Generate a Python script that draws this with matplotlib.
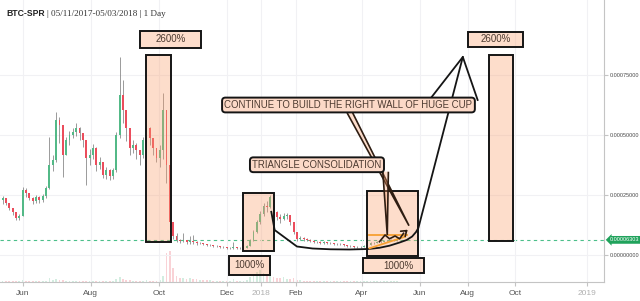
import numpy as np
import matplotlib
matplotlib.use("Agg")
import matplotlib.pyplot as plt
import matplotlib.dates as mdates
from matplotlib.colors import to_rgba
from matplotlib.patches import Rectangle, Polygon
from matplotlib.transforms import blended_transform_factory

# 3-day candles of BTC-SPR, prices in satoshi
first_day = "2017-05-11"
step_days = 3
closes = [
    22900, 23700, 21700, 19600, 17900, 15400, 16200, 27100, 25800, 23700,
    22500, 24200, 22900, 24600, 27900, 37500, 39600, 56200, 54200, 41700,
    47900, 50000, 51250, 52900, 50800, 47900, 40400, 41700, 44600, 37500,
    38750, 33300, 35400, 32900, 35400, 50000, 66700, 60400, 52900, 44600,
    45800, 43750, 41700, 47900, 52900, 48750, 44600, 40400, 43750, 60400,
    37500, 13750, 7900, 6250, 5800, 6250, 5400, 5800, 5400, 5000,
    5000, 4600, 4200, 4200, 3750, 3750, 3300, 3300, 2900, 2900,
    3300, 2900, 2900, 2900, 3750, 6250, 9600, 13750, 17100, 20400,
    20000, 24200, 17900, 15800, 15000, 16200, 16700, 13750, 9600, 6700,
    7100, 6700, 6250, 5800, 5400, 5400, 5000, 5400, 5000, 5000,
    4600, 4600, 4600, 4200, 3750, 3750, 3300, 3300, 3300, 3750,
    4200, 5000, 5000, 5400, 5400, 5800, 5800, 6250, 6250, 6303,
]
highs = [
    25000, 24600, 23700, 21700, 19600, 17900, 17100, 28300, 27900, 25800,
    24200, 25000, 24600, 25400, 28700, 49200, 41700, 59600, 57500, 54200,
    49200, 51700, 52900, 55000, 53300, 50800, 47900, 44200, 46200, 45000,
    40800, 38750, 36700, 35800, 36300, 51250, 82500, 72900, 60400, 52900,
    47900, 46700, 43750, 49200, 57500, 53300, 48750, 44600, 45800, 67500,
    60400, 37500, 13750, 9200, 6700, 9200, 6250, 7900, 8300, 5800,
    5400, 5000, 4600, 4600, 4200, 4200, 3750, 3750, 3300, 3300,
    5400, 3300, 3300, 3300, 4200, 6700, 10400, 14600, 18300, 21700,
    22500, 25000, 24200, 18300, 17100, 17500, 17500, 16700, 13750, 9600,
    7900, 7500, 7100, 6700, 6250, 5800, 5800, 5800, 5400, 5400,
    5000, 5000, 5000, 4600, 4200, 4200, 3750, 3750, 3750, 4200,
    4600, 5400, 5400, 5800, 6250, 6250, 6250, 6700, 6700, 6700,
]
lows = [
    21700, 21300, 20800, 18750, 16700, 14600, 14600, 16200, 24200, 22900,
    21300, 21700, 21700, 22100, 23700, 27500, 35000, 38750, 46700, 32500,
    41700, 45800, 48750, 49600, 47900, 45000, 29200, 37500, 40000, 35000,
    35800, 32100, 31700, 31200, 31700, 34600, 48750, 55000, 47500, 41700,
    42500, 40000, 37500, 40400, 46700, 45800, 41700, 38750, 36700, 40000,
    30000, 9600, 6700, 5400, 5000, 5400, 4600, 4600, 4600, 4200,
    4600, 4200, 3750, 3750, 3300, 3300, 2900, 2900, 2500, 2500,
    2500, 2500, 2500, 2500, 2900, 3750, 5800, 9200, 12900, 16200,
    17900, 19600, 16700, 14600, 13300, 14600, 15000, 12500, 8800, 5800,
    6250, 5800, 5800, 5400, 5000, 5000, 4600, 4600, 4600, 4600,
    4200, 4200, 4200, 3750, 3300, 3300, 2900, 2900, 2900, 3300,
    3750, 4200, 4600, 5000, 5000, 5400, 5400, 5800, 5800, 5800,
]
first_open = 23500
volumes = [
    1.2, 0.8, 0.6, 0.5, 0.7, 0.6, 0.5, 1.5, 1.0, 0.8,
    0.6, 0.7, 0.6, 0.8, 1.2, 3.5, 2.0, 2.8, 1.8, 1.5,
    1.2, 1.0, 0.9, 1.1, 0.8, 0.9, 1.4, 1.0, 0.9, 1.2,
    0.8, 1.0, 0.8, 0.9, 1.0, 3.0, 4.5, 2.5, 1.8, 1.5,
    1.2, 1.0, 1.1, 1.4, 1.6, 1.2, 1.0, 1.3, 2.0, 6.0,
    28.0, 30.0, 14.0, 6.0, 3.5, 4.0, 3.0, 3.5, 3.0, 2.5,
    2.0, 1.8, 1.5, 1.5, 1.4, 1.2, 1.2, 1.0, 1.0, 1.2,
    2.5, 1.0, 1.0, 1.2, 2.0, 5.0, 8.0, 10.0, 12.0, 9.0,
    7.0, 9.5, 5.0, 4.0, 3.5, 4.5, 3.0, 2.5, 3.5, 2.0,
    1.5, 1.2, 1.0, 1.0, 0.8, 0.9, 0.8, 0.8, 0.7, 0.8,
    0.6, 0.7, 0.6, 0.6, 0.5, 0.6, 0.5, 0.5, 0.6, 0.7,
    0.8, 1.0, 0.9, 1.0, 0.8, 0.9, 1.0, 1.1, 0.9, 0.8,
]
last_price = 0.00006303

price_ticks = [0.0, 0.00025, 0.0005, 0.00075]
tick_dates = ["2017-06-01", "2017-08-01", "2017-10-01", "2017-12-01", "2018-01-01",
              "2018-02-01", "2018-04-01", "2018-06-01", "2018-08-01", "2018-10-01",
              "2019-01-01"]
tick_labels = ["Jun", "Aug", "Oct", "Dec", "2018", "Feb", "Apr", "Jun", "Aug", "Oct", "2019"]

# drawings on the chart (dates / prices)
zone_boxes = [
    ("2017-09-20", "2017-10-12", 0.0000542, 0.000833),
    ("2017-12-16", "2018-01-12", 0.0000179, 0.000257),
    ("2018-04-06", "2018-05-29", -0.0000042, 0.000268),
    ("2018-08-28", "2018-09-28", 0.0000583, 0.000833),
]
pct_labels = [
    ("2600%", "2017-09-14", "2017-11-08", 0.000861, 0.000935),
    ("1000%", "2017-12-03", "2018-01-09", -0.0000833, -0.0000042),
    ("1000%", "2018-04-02", "2018-06-06", -0.0000763, -0.0000138),
    ("2600%", "2018-08-02", "2018-10-11", 0.000868, 0.000929),
]
callouts = [
    ("CONTINUE TO BUILD THE RIGHT WALL OF HUGE CUP", "2017-11-29", 0.000625),
    ("TRIANGLE CONSOLIDATION", "2017-12-24", 0.000376),
]
pointers = [
    [("2018-03-19", 0.000592), ("2018-05-18", 0.000122), ("2018-03-24", 0.000592)],
    [("2018-04-20", 0.000347), ("2018-04-24", 0.0000833), ("2018-04-25", 0.000347)],
]
cup_dates = ["2018-01-10", "2018-01-13", "2018-02-02", "2018-02-16", "2018-03-04",
             "2018-03-21", "2018-04-07", "2018-04-17", "2018-04-26", "2018-05-06",
             "2018-05-15", "2018-05-22", "2018-05-27", "2018-05-30", "2018-07-26"]
cup_prices = [0.00018, 0.000104, 0.0000354, 0.0000271, 0.0000238,
              0.0000229, 0.000025, 0.00003, 0.0000388, 0.0000521,
              0.0000625, 0.000077, 0.0000958, 0.0001125, 0.000825]
peak_dates = ["2018-06-16", "2018-07-26", "2018-08-14"]
peak_prices = [0.000658, 0.000825, 0.000646]
tri_upper = [("2018-04-08", 0.0000833), ("2018-05-15", 0.0000833)]
tri_lower = [("2018-04-08", 0.0000279), ("2018-05-13", 0.0000763)]
zig_dates = ["2018-04-17", "2018-04-22", "2018-04-26", "2018-05-01", "2018-05-06",
             "2018-05-11", "2018-05-19"]
zig_prices = [0.0000554, 0.0000833, 0.0000675, 0.0000792, 0.0000675,
              0.0000904, 0.000113]


def dn(d):
    return mdates.date2num(np.datetime64(d))


# TradingView style time scale: history bars wider than the future area
knot_days = np.array([dn("2016-01-01"), dn("2018-05-03"), dn("2020-01-01")])
knot_px = np.array([397.3 - (knot_days[1] - knot_days[0]) * 1.115, 397.3,
                    397.3 + (knot_days[2] - knot_days[1]) * 0.78])


def fwd(x):
    return np.interp(x, knot_days, knot_px)


def inv(p):
    return np.interp(p, knot_px, knot_days)


sat = 1e-8
c = np.array(closes) * sat
h = np.array(highs) * sat
l = np.array(lows) * sat
o = np.concatenate([[first_open * sat], c[:-1]])
x = mdates.date2num(np.datetime64(first_day) + np.arange(len(c)) * step_days)

up_col, dn_col = "#53b987", "#eb4d5c"
box_face = to_rgba("#fb9e6c", 0.35)
ink = "#151515"
txt_col = "#4d3b31"

fig = plt.figure(figsize=(6.4, 3.01), dpi=100)
ax = fig.add_axes([0, 19 / 301, 604 / 640, 282 / 301])
ax.set_xscale("function", functions=(fwd, inv))
ax.set_xlim(inv(0), inv(604))
ax.set_ylim(-0.0001125, 0.0010625)
axv = ax.twinx()
ax.set_zorder(2)
axv.set_zorder(1)
ax.patch.set_visible(False)

# volume
is_up = c >= o
cols = np.where(is_up, up_col, dn_col)
axv.bar(x, volumes, width=1.6, color=cols, alpha=0.25, linewidth=0)
axv.set_ylim(0, max(volumes) / 0.11)
axv.set_yticks([])
for s in axv.spines.values():
    s.set_visible(False)

# candles
ax.vlines(x, l, h, color="#8a8a8a", linewidth=0.6, zorder=2)
body_lo = np.minimum(o, c)
body_h = np.maximum(np.abs(c - o), 0.0000012)
ax.bar(x, body_h, bottom=body_lo, width=1.7, color=cols, linewidth=0, zorder=2.5)

# grid / axes
ax.set_yticks(price_ticks, labels=["%.8f" % v for v in price_ticks])
ax.yaxis.tick_right()
ax.set_xticks([dn(d) for d in tick_dates], labels=tick_labels)
ax.grid(True, color="#f1f1f4", linewidth=0.8, zorder=0)
for side in ["left", "top"]:
    ax.spines[side].set_visible(False)
for side in ["right", "bottom"]:
    ax.spines[side].set_color("#c4c4c4")
ax.tick_params(axis="y", labelsize=4.0, colors="#c4c4c4", labelcolor="#4a4a4a",
               length=3, pad=1.0)
ax.tick_params(axis="x", labelsize=6, colors="#c4c4c4", labelcolor="#555555", length=3, pad=3)
for lab in ax.get_yticklabels():
    lab.set_family("Liberation Sans")
for lab in ax.get_xticklabels():
    lab.set_family("Liberation Sans")
    if lab.get_text() in ("2018", "2019"):
        lab.set_color("#b0b0b0")

# last price line and tag
ax.axhline(last_price, color="#4cbf8a", linestyle=(0, (3, 3)), linewidth=0.8, zorder=1)
tr = blended_transform_factory(ax.transAxes, ax.transData)
ax.text(1.010, last_price, "%.8f" % last_price, transform=tr, ha="left", va="center",
        fontsize=4.0, family="Liberation Sans", color="white", clip_on=False, zorder=10,
        bbox=dict(boxstyle="larrow,pad=0.25", fc="#20a35c", ec="none"))

# zones
for d0, d1, lo, hi in zone_boxes:
    ax.add_patch(Rectangle((dn(d0), lo), dn(d1) - dn(d0), hi - lo, fc=box_face,
                           ec=ink, lw=1.4, zorder=3))
for text, d0, d1, lo, hi in pct_labels:
    ax.add_patch(Rectangle((dn(d0), lo), dn(d1) - dn(d0), hi - lo, fc=box_face,
                           ec=ink, lw=1.4, zorder=5))
    ax.text((dn(d0) + dn(d1)) / 2, (lo + hi) / 2, text, ha="center", va="center",
            fontsize=7, family="Liberation Sans", color=txt_col, zorder=6)

# lines
ax.plot([dn(d) for d in cup_dates], cup_prices, color=ink, lw=1.3, zorder=4)
ax.plot([dn(d) for d in peak_dates], peak_prices, color=ink, lw=1.3, zorder=4)
for seg in (tri_upper, tri_lower):
    ax.plot([dn(d) for d, _ in seg], [p for _, p in seg], color="#f7a032", lw=1.3, zorder=4)
zx = [dn(d) for d in zig_dates]
ax.plot(zx[:-1], zig_prices[:-1], color="#2e1d12", lw=1.2, zorder=4)
ax.annotate("", xy=(zx[-1], zig_prices[-1]), xytext=(zx[-2], zig_prices[-2]),
            arrowprops=dict(arrowstyle="->,head_length=0.35,head_width=0.25",
                            color="#2e1d12", lw=1.2), zorder=4)

# callouts
for pts in pointers:
    ax.add_patch(Polygon([(dn(d), p) for d, p in pts], closed=False, fc=box_face,
                         ec="#2e1d12", lw=1.2, zorder=4.5))
for text, d0, p in callouts:
    ax.text(dn(d0), p, text, ha="left", va="center", fontsize=6.9,
            family="Liberation Sans", color=txt_col, zorder=6,
            bbox=dict(boxstyle="round,pad=0.25,rounding_size=0.35",
                      fc=to_rgba("#fcd9c7", 1.0), ec=ink, lw=1.4))

fig.text(6 / 640, 1 - 14 / 301, "BTC-SPR", fontsize=6.2, weight="bold",
         family="Liberation Sans", color="#222222", va="center")
fig.text(47 / 640, 1 - 14 / 301, "| 05/11/2017-05/03/2018 | 1 Day", fontsize=6.6,
         family="Liberation Serif", color="#333333", va="center")

fig.savefig("out.png", dpi=100)
